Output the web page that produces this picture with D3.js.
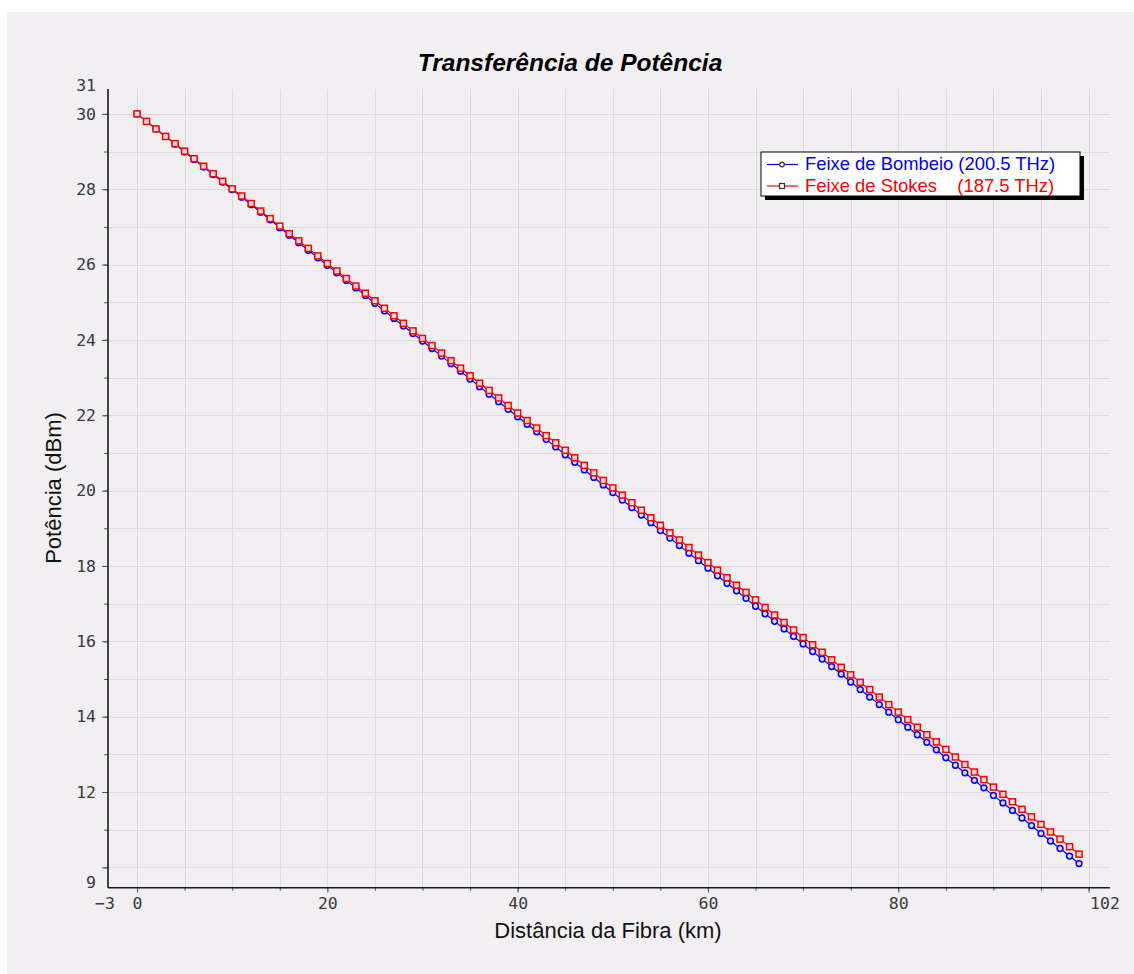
<!DOCTYPE html>
<html>
<head>
<meta charset="utf-8">
<script src="https://cdn.jsdelivr.net/npm/d3@7"></script>
<style>
  html, body { margin: 0; padding: 0; background: #fff; }
  text { font-family: "Liberation Sans", Arial, sans-serif; }
  .tick text { font-family: "DejaVu Sans Mono", monospace; font-size: 16.5px; fill: #3a3a3a; }
</style>
</head>
<body>
<svg id="chart" width="1134" height="974"></svg>
<script>
// distance along the fibre (km)
const distanciaKm = [
  0, 1, 2, 3, 4, 5, 6, 7, 8, 9, 10, 11, 12, 13, 14, 15, 16, 17, 18, 19,
  20, 21, 22, 23, 24, 25, 26, 27, 28, 29, 30, 31, 32, 33, 34, 35, 36, 37, 38, 39,
  40, 41, 42, 43, 44, 45, 46, 47, 48, 49, 50, 51, 52, 53, 54, 55, 56, 57, 58, 59,
  60, 61, 62, 63, 64, 65, 66, 67, 68, 69, 70, 71, 72, 73, 74, 75, 76, 77, 78, 79,
  80, 81, 82, 83, 84, 85, 86, 87, 88, 89, 90, 91, 92, 93, 94, 95, 96, 97, 98, 99
];

// pump beam, 200.5 THz (dBm)
const bombeioDbm = [
  30.00, 29.80, 29.60, 29.40, 29.20, 28.99, 28.79, 28.59, 28.39, 28.19,
  27.99, 27.79, 27.59, 27.39, 27.19, 26.98, 26.78, 26.58, 26.38, 26.18,
  25.98, 25.78, 25.58, 25.38, 25.18, 24.97, 24.77, 24.57, 24.37, 24.17,
  23.97, 23.77, 23.57, 23.37, 23.17, 22.96, 22.76, 22.56, 22.36, 22.16,
  21.96, 21.76, 21.56, 21.36, 21.16, 20.95, 20.75, 20.55, 20.35, 20.15,
  19.95, 19.75, 19.55, 19.35, 19.15, 18.94, 18.74, 18.54, 18.34, 18.14,
  17.94, 17.74, 17.54, 17.34, 17.14, 16.93, 16.73, 16.53, 16.33, 16.13,
  15.93, 15.73, 15.53, 15.33, 15.13, 14.92, 14.72, 14.52, 14.32, 14.12,
  13.92, 13.72, 13.52, 13.32, 13.12, 12.91, 12.71, 12.51, 12.31, 12.11,
  11.91, 11.71, 11.51, 11.31, 11.11, 10.90, 10.70, 10.50, 10.30, 10.10
];

// Stokes beam, 187.5 THz (dBm)
const stokesDbm = [
  30.00, 29.80, 29.60, 29.40, 29.21, 29.01, 28.81, 28.61, 28.41, 28.21,
  28.01, 27.82, 27.62, 27.42, 27.22, 27.02, 26.82, 26.63, 26.43, 26.23,
  26.03, 25.83, 25.63, 25.43, 25.24, 25.04, 24.84, 24.64, 24.44, 24.24,
  24.04, 23.85, 23.65, 23.45, 23.25, 23.05, 22.85, 22.66, 22.46, 22.26,
  22.06, 21.86, 21.66, 21.46, 21.27, 21.07, 20.87, 20.67, 20.47, 20.27,
  20.07, 19.88, 19.68, 19.48, 19.28, 19.08, 18.88, 18.69, 18.49, 18.29,
  18.09, 17.89, 17.69, 17.49, 17.30, 17.10, 16.90, 16.70, 16.50, 16.30,
  16.10, 15.91, 15.71, 15.51, 15.31, 15.11, 14.91, 14.72, 14.52, 14.32,
  14.12, 13.92, 13.72, 13.52, 13.33, 13.13, 12.93, 12.73, 12.53, 12.33,
  12.13, 11.94, 11.74, 11.54, 11.34, 11.14, 10.94, 10.75, 10.55, 10.35
];

const xDomain = [-3.05, 102.25],
      yDomain = [9.46, 30.66];

const xMinorTicks = [0, 5, 10, 15, 20, 25, 30, 35, 40, 45, 50, 55, 60, 65, 70, 75, 80, 85, 90, 95, 100],
      xMajorTicks = [0, 20, 40, 60, 80, 100],
      xTickLabels = [0, 20, 40, 60, 80];

const yMinorTicks = [10, 11, 12, 13, 14, 15, 16, 17, 18, 19, 20, 21, 22, 23, 24, 25, 26, 27, 28, 29, 30],
      yMajorTicks = [10, 12, 14, 16, 18, 20, 22, 24, 26, 28, 30],
      yTickLabels = [12, 14, 16, 18, 20, 22, 24, 26, 28, 30];

const series = [
  {name: 'Feixe de Bombeio (200.5 THz)', values: bombeioDbm, color: '#0000ff', marker: 'circle'},
  {name: 'Feixe de Stokes    (187.5 THz)', values: stokesDbm, color: '#ff0000', marker: 'square'}
];

const svg = d3.select('#chart');
const W = 1134, H = 974;
const plot = {left: 108, right: 1110, top: 89, bottom: 887.7};

svg.append('rect').attr('x', 7).attr('y', 12)
  .attr('width', W - 7).attr('height', H - 12)
  .attr('fill', '#f1eff2');

const x = d3.scaleLinear().domain(xDomain).range([plot.left, plot.right]);
const y = d3.scaleLinear().domain(yDomain).range([plot.bottom, plot.top]);

// grid
const grid = svg.append('g').attr('stroke', '#dcdadd').attr('stroke-width', 1);
grid.selectAll('line.v').data(xMinorTicks).join('line')
  .attr('class', 'v')
  .attr('x1', d => Math.round(x(d)) + 0.5).attr('x2', d => Math.round(x(d)) + 0.5)
  .attr('y1', plot.top).attr('y2', plot.bottom);
grid.selectAll('line.h').data(yMinorTicks).join('line')
  .attr('class', 'h')
  .attr('x1', plot.left).attr('x2', plot.right)
  .attr('y1', d => Math.round(y(d)) + 0.5).attr('y2', d => Math.round(y(d)) + 0.5);

// axes
function styleAxis(g) {
  g.select('.domain').remove();
  g.selectAll('.tick line').attr('stroke', '#555');
}

svg.append('g')
  .attr('transform', `translate(0,${plot.bottom})`)
  .call(d3.axisBottom(x).tickValues(xMinorTicks).tickSize(3).tickFormat(''))
  .call(styleAxis);
svg.append('g')
  .attr('transform', `translate(0,${plot.bottom})`)
  .call(d3.axisBottom(x).tickValues(xMajorTicks).tickSize(5).tickPadding(5)
    .tickFormat(d => xTickLabels.includes(d) ? d : ''))
  .call(styleAxis);

svg.append('g')
  .attr('transform', `translate(${plot.left},0)`)
  .call(d3.axisLeft(y).tickValues(yMinorTicks).tickSize(4).tickFormat(''))
  .call(styleAxis);
svg.append('g')
  .attr('transform', `translate(${plot.left},0)`)
  .call(d3.axisLeft(y).tickValues(yMajorTicks).tickSize(6).tickPadding(6)
    .tickFormat(d => yTickLabels.includes(d) ? d : ''))
  .call(styleAxis);

// end labels (rounded domain limits)
const endLbl = svg.append('g').attr('class', 'tick');
endLbl.append('text').attr('x', x(xDomain[0]) - 3).attr('y', plot.bottom + 10)
  .attr('dy', '0.71em').attr('text-anchor', 'middle').text('\u22123');
endLbl.append('text').attr('x', x(xDomain[1]) - 5).attr('y', plot.bottom + 10)
  .attr('dy', '0.71em').attr('text-anchor', 'middle').text(Math.round(xDomain[1]));
endLbl.append('text').attr('x', plot.left - 12).attr('y', y(yDomain[0]) - 5)
  .attr('dy', '0.32em').attr('text-anchor', 'end').text(Math.round(yDomain[0]));
endLbl.append('text').attr('x', plot.left - 12).attr('y', y(yDomain[1]) - 3)
  .attr('dy', '0.32em').attr('text-anchor', 'end').text(Math.round(yDomain[1]));

// axis lines
svg.append('line')
  .attr('x1', plot.left).attr('x2', plot.right)
  .attr('y1', plot.bottom).attr('y2', plot.bottom)
  .attr('stroke', '#1a1a1a').attr('stroke-width', 1.6);
svg.append('line')
  .attr('x1', plot.left).attr('x2', plot.left)
  .attr('y1', plot.top).attr('y2', plot.bottom)
  .attr('stroke', '#1a1a1a').attr('stroke-width', 1.6);

// series
const line = d3.line().x((d, i) => x(distanciaKm[i])).y(d => y(d));

series.forEach(s => {
  const g = svg.append('g');
  g.append('path').datum(s.values)
    .attr('d', line)
    .attr('fill', 'none')
    .attr('stroke', s.color)
    .attr('stroke-width', 1.2);

  if (s.marker === 'circle') {
    g.selectAll('circle').data(s.values).join('circle')
      .attr('cx', (d, i) => x(distanciaKm[i]))
      .attr('cy', d => y(d))
      .attr('r', 2.9)
      .attr('fill', '#dcdcff')
      .attr('stroke', s.color)
      .attr('stroke-width', 1.5);
  } else {
    g.selectAll('rect').data(s.values).join('rect')
      .attr('x', (d, i) => x(distanciaKm[i]) - 3)
      .attr('y', d => y(d) - 3)
      .attr('width', 6).attr('height', 6)
      .attr('fill', '#ffdcdc')
      .attr('stroke', s.color)
      .attr('stroke-width', 1.5);
  }
});

// title + axis titles
svg.append('text')
  .attr('x', 570).attr('y', 71)
  .attr('text-anchor', 'middle')
  .style('font-size', '24.5px').style('font-weight', 'bold').style('font-style', 'italic')
  .attr('fill', '#000')
  .text('Transferência de Potência');

svg.append('text')
  .attr('x', 608).attr('y', 938)
  .attr('text-anchor', 'middle')
  .style('font-size', '22px')
  .attr('fill', '#111')
  .text('Distância da Fibra (km)');

svg.append('text')
  .attr('transform', 'translate(61,488) rotate(-90)')
  .attr('text-anchor', 'middle')
  .style('font-size', '22px')
  .attr('fill', '#111')
  .text('Potência (dBm)');

// legend
const lg = svg.append('g').attr('transform', 'translate(761,152)');
const lw = 319, lh = 44;
lg.append('rect').attr('x', 4).attr('y', 4).attr('width', lw).attr('height', lh).attr('fill', '#000');
lg.append('rect').attr('x', 0).attr('y', 0).attr('width', lw).attr('height', lh)
  .attr('fill', '#fff').attr('stroke', '#000').attr('stroke-width', 1);

series.forEach((s, i) => {
  const ly = 12.5 + i * 21.5;
  lg.append('line').attr('x1', 6).attr('x2', 37).attr('y1', ly).attr('y2', ly)
    .attr('stroke', s.color).attr('stroke-width', 1.2);
  if (s.marker === 'circle') {
    lg.append('circle').attr('cx', 21).attr('cy', ly).attr('r', 2.3)
      .attr('fill', '#fff').attr('stroke', '#333').attr('stroke-width', 1.2);
  } else {
    lg.append('rect').attr('x', 18.5).attr('y', ly - 2.5).attr('width', 5).attr('height', 5)
      .attr('fill', '#fff').attr('stroke', '#333').attr('stroke-width', 1.2);
  }
  lg.append('text').attr('x', 44).attr('y', ly + 5.5)
    .style('font-size', '18.4px').style('white-space', 'pre')
    .attr('fill', s.color)
    .text(s.name);
});
</script>
</body>
</html>
